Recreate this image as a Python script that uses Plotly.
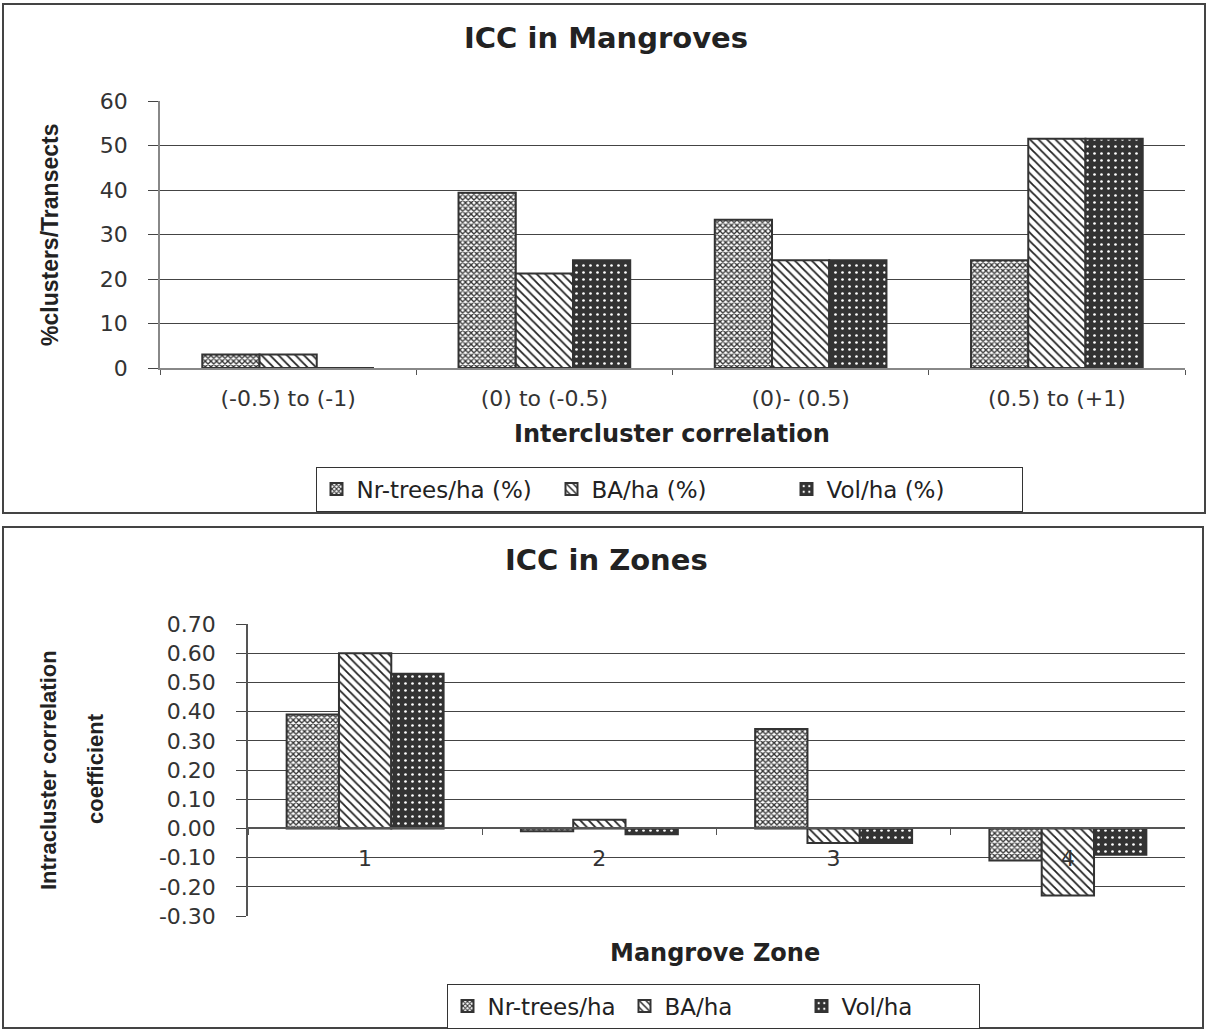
import plotly.graph_objects as go

W, H = 1207, 1029

# ---------------- data: top chart ----------------
top_title = "ICC in Mangroves"
top_categories = ["(-0.5) to (-1)", "(0) to (-0.5)", "(0)- (0.5)", "(0.5) to (+1)"]
top_nr_trees = [3.03, 39.39, 33.33, 24.24]
top_ba = [3.03, 21.21, 24.24, 51.52]
top_vol = [0.0, 24.24, 24.24, 51.52]
top_series_names = ["Nr-trees/ha (%)", "BA/ha (%)", "Vol/ha (%)"]
top_y_ticks = [0, 10, 20, 30, 40, 50, 60]
top_y_tick_labels = ["0", "10", "20", "30", "40", "50", "60"]
top_x_title = "Intercluster correlation"
top_y_title = "%clusters/Transects"

# ---------------- data: bottom chart ----------------
bot_title = "ICC in Zones"
bot_categories = ["1", "2", "3", "4"]
bot_nr_trees = [0.39, -0.01, 0.34, -0.11]
bot_ba = [0.60, 0.03, -0.05, -0.23]
bot_vol = [0.53, -0.02, -0.05, -0.09]
bot_series_names = ["Nr-trees/ha", "BA/ha", "Vol/ha"]
bot_y_ticks = [-0.3, -0.2, -0.1, 0.0, 0.1, 0.2, 0.3, 0.4, 0.5, 0.6, 0.7]
bot_y_tick_labels = ["-0.30", "-0.20", "-0.10", "0.00", "0.10", "0.20",
                     "0.30", "0.40", "0.50", "0.60", "0.70"]
bot_x_title = "Mangrove Zone"
bot_y_title_lines = ["Intracluster correlation", "coefficient"]


def px(x):
    return x / W


def py(y):
    return 1 - y / H


TICK_FONT = dict(family="DejaVu Sans", size=22, color="#333")
LEGEND_FONT = dict(family="DejaVu Sans", size=23, color="#222")
EDGE = dict(color="#333", width=2)

patterns = [
    dict(shape="x", fgcolor="#333", bgcolor="white", size=4, solidity=0.55, fillmode="replace"),
    dict(shape="\\", fgcolor="#222", bgcolor="white", size=6, solidity=0.3, fillmode="replace"),
    dict(shape=".", fgcolor="white", bgcolor="#333", size=7, solidity=0.12, fillmode="replace"),
]

fig = go.Figure()

for name, vals, pat in zip(top_series_names, [top_nr_trees, top_ba, top_vol], patterns):
    fig.add_trace(go.Bar(
        x=top_categories, y=vals, name=name, xaxis="x", yaxis="y",
        marker=dict(color="white", line=EDGE, pattern=pat),
        legend="legend",
    ))

for name, vals, pat in zip(bot_series_names, [bot_nr_trees, bot_ba, bot_vol], patterns):
    fig.add_trace(go.Bar(
        x=bot_categories, y=vals, name=name, xaxis="x2", yaxis="y2",
        marker=dict(color="white", line=EDGE, pattern=pat),
        legend="legend2",
    ))

top_ydom = [py(368), py(101)]
bot_ydom = [py(916), py(624)]
bot_range = [bot_y_ticks[0], bot_y_ticks[-1]]
zero_pos = bot_ydom[0] + (0 - bot_range[0]) / (bot_range[1] - bot_range[0]) * (bot_ydom[1] - bot_ydom[0])

fig.update_layout(
    width=W, height=H,
    margin=dict(l=0, r=0, t=0, b=0, pad=0, autoexpand=False),
    paper_bgcolor="white", plot_bgcolor="white",
    barmode="group", bargap=0.33, bargroupgap=0,
    showlegend=True,
    xaxis=dict(
        domain=[px(160), px(1185)], anchor="y", type="category",
        showline=True, linecolor="#888", linewidth=1.5,
        ticks="outside", tickson="boundaries", ticklen=5, tickcolor="#555",
        tickfont=TICK_FONT, ticklabelstandoff=10, showgrid=False, automargin=False,
    ),
    yaxis=dict(
        domain=top_ydom, anchor="x", range=[0, 60],
        tickvals=top_y_ticks, ticktext=top_y_tick_labels,
        showgrid=True, gridcolor="#444", gridwidth=1,
        showline=True, linecolor="#888", linewidth=1.5,
        ticks="outside", ticklen=10, tickcolor="#444",
        tickfont=TICK_FONT, ticklabelstandoff=16, zeroline=False, automargin=False,
    ),
    xaxis2=dict(
        domain=[px(248), px(1185)], anchor="free", position=zero_pos, type="category",
        showline=True, linecolor="#555", linewidth=1.5,
        ticks="outside", tickson="boundaries", ticklen=6, tickcolor="#555",
        tickfont=TICK_FONT, ticklabelstandoff=10, showgrid=False, automargin=False,
    ),
    yaxis2=dict(
        domain=bot_ydom, anchor="x2", range=bot_range,
        tickvals=bot_y_ticks, ticktext=bot_y_tick_labels,
        showgrid=True, gridcolor="#444", gridwidth=1,
        showline=True, linecolor="#555", linewidth=1.5,
        ticks="outside", ticklen=10, tickcolor="#444",
        tickfont=TICK_FONT, ticklabelstandoff=16, zeroline=False, automargin=False,
    ),
    legend=dict(
        orientation="h", x=px(669), y=py(489), xanchor="center", yanchor="middle",
        bordercolor="#333", borderwidth=1, bgcolor="white",
        font=LEGEND_FONT, itemwidth=30, tracegroupgap=0,
        entrywidthmode="pixels", entrywidth=190,
    ),
    legend2=dict(
        orientation="h", x=px(713), y=py(1006), xanchor="center", yanchor="middle",
        bordercolor="#333", borderwidth=1, bgcolor="white",
        font=LEGEND_FONT, itemwidth=30, tracegroupgap=0,
        entrywidthmode="pixels", entrywidth=132,
    ),
    shapes=[
        dict(type="rect", xref="paper", yref="paper",
             x0=px(3), x1=px(1205), y0=py(513), y1=py(4),
             line=dict(color="#444", width=2)),
        dict(type="rect", xref="paper", yref="paper",
             x0=px(3), x1=px(1203), y0=py(1028), y1=py(527),
             line=dict(color="#444", width=2)),
    ],
)

ann = [
    dict(text=f"<b>{top_title}</b>", x=px(606), y=py(38),
         font=dict(family="DejaVu Sans", size=29, color="#222")),
    dict(text=f"<b>{bot_title}</b>", x=px(606), y=py(560),
         font=dict(family="DejaVu Sans", size=29, color="#222")),
    dict(text=f"<b>{top_x_title}</b>", x=px(672), y=py(434),
         font=dict(family="DejaVu Sans", size=24, color="#222")),
    dict(text=f"<b>{bot_x_title}</b>", x=px(715), y=py(953),
         font=dict(family="DejaVu Sans", size=24, color="#222")),
    dict(text=f"<b>{top_y_title}</b>", x=px(50), y=py(235), textangle=-90,
         font=dict(family="Liberation Sans", size=23, color="#222")),
    dict(text=f"<b>{bot_y_title_lines[0]}</b>", x=px(48), y=py(770), textangle=-90,
         font=dict(family="Liberation Sans", size=22, color="#222")),
    dict(text=f"<b>{bot_y_title_lines[1]}</b>", x=px(95), y=py(769), textangle=-90,
         font=dict(family="Liberation Sans", size=22, color="#222")),
]
for a in ann:
    a.update(xref="paper", yref="paper", showarrow=False, xanchor="center", yanchor="middle")
fig.update_layout(annotations=ann)

fig.write_html("out.html", config={"displayModeBar": False})
